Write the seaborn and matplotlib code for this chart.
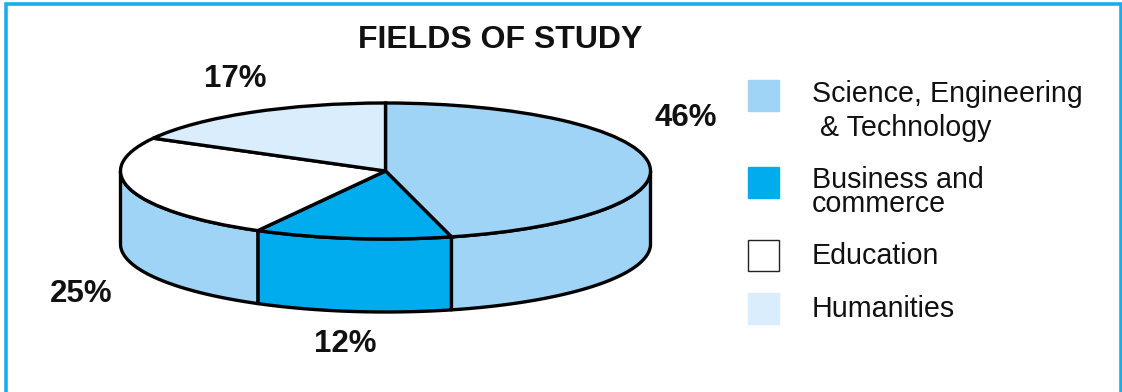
import numpy as np
import matplotlib
matplotlib.use("Agg")
import matplotlib.pyplot as plt
from matplotlib.patches import Rectangle
import seaborn as sns

title = "FIELDS OF STUDY"
categories = ["Science, Engineering\n & Technology", "Business and\ncommerce", "Education", "Humanities"]
values = [46, 12, 25, 17]
value_labels = ["46%", "12%", "25%", "17%"]

colors = sns.color_palette(["#9FD4F6", "#00ABEE", "#FFFFFF", "#DAEDFC"])
wall_colors = [colors[0], colors[1], colors[0], colors[0]]
border = "#17AEEE"

W, H = 1122, 392
CX, CY, RX, RY, DEPTH = 385.5, 171, 265, 68, 73

sns.set_theme(style="white")
plt.rcParams["font.family"] = ["Liberation Sans", "DejaVu Sans"]

fig = plt.figure(figsize=(W / 100, H / 100), dpi=100, facecolor="white")
ax = fig.add_axes([0, 0, 1, 1])

# The pie lies flat: the axes scale is squashed vertically (unit circle -> ellipse)
ax.pie(values, colors=colors, startangle=90, counterclock=False, radius=1,
       wedgeprops=dict(edgecolor="black", linewidth=2.4, zorder=3))
ax.set_aspect("auto")
ax.set_xlim(-CX / RX, (W - CX) / RX)
ax.set_ylim(-(H - CY) / RY, CY / RY)
ax.set_xticks([])
ax.set_yticks([])
ax.set_frame_on(False)

# Side wall of the visible (front) half
depth = DEPTH / RY
edges = np.cumsum([0] + values) / sum(values) * 360
for start, stop, col in zip(edges[:-1], edges[1:], wall_colors):
    a, b = max(start, 90), min(stop, 270)
    if a >= b:
        continue
    th = np.radians(np.linspace(a, b, 120))
    xs, ys = np.sin(th), np.cos(th)
    ax.fill(np.r_[xs, xs[::-1]], np.r_[ys, ys[::-1] - depth],
            facecolor=col, edgecolor="black", linewidth=2.4, zorder=1, joinstyle="round")

# Overlay in pixel coordinates for frame, text and legend
ov = fig.add_axes([0, 0, 1, 1], facecolor="none")
ov.set_xlim(0, W)
ov.set_ylim(H, 0)
ov.axis("off")

ov.plot([6, 6, 1121, 1121], [H, 4, 4, H], color=border, lw=2.6, solid_joinstyle="miter")

ov.text(500, 40, title, fontsize=23, fontweight="bold", color="#111111", ha="center", va="center")

label_xy = [(686, 118), (345, 344), (81, 294), (235, 79)]
for s, (x, y) in zip(value_labels, label_xy):
    ov.text(x, y, s, fontsize=22.5, fontweight="bold", color="#111111", ha="center", va="center")

swatch_y = [80, 167, 240, 293]
text_y = [111, 192, 256, 309]
spacing = [1.27, 0.78, 1.0, 1.0]
for i, (cat, y0, col) in enumerate(zip(categories, swatch_y, colors)):
    edge = "#222222" if i == 2 else col
    ov.add_patch(Rectangle((748, y0), 31, 31, facecolor=col, edgecolor=edge, lw=1.0))
    ov.text(812, text_y[i], cat, fontsize=20.6, color="#111111", ha="left", va="center",
            linespacing=spacing[i])

fig.savefig("out.png", dpi=100, facecolor="white")
